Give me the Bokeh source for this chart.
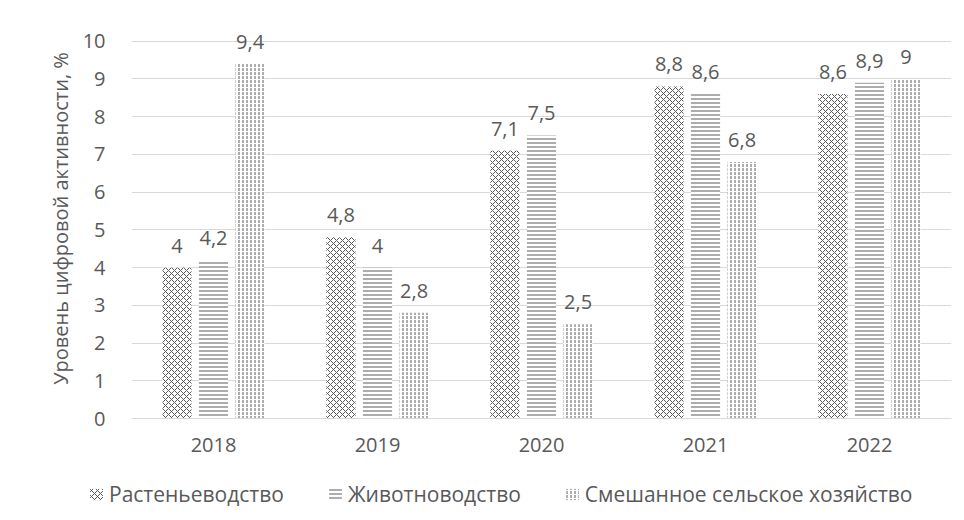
from bokeh.plotting import figure
from bokeh.layouts import column
from bokeh.models import ColumnDataSource, FactorRange, Range1d, Legend, LegendItem, FixedTicker
from bokeh.transform import dodge
from bokeh.core.properties import value
from bokeh.embed import file_html
from bokeh.resources import INLINE

years = ["2018", "2019", "2020", "2021", "2022"]
crops = [4, 4.8, 7.1, 8.8, 8.6]
livestock = [4.2, 4, 7.5, 8.6, 8.9]
mixed = [9.4, 2.8, 2.5, 6.8, 9]
y_ticks = [0, 1, 2, 3, 4, 5, 6, 7, 8, 9, 10]
series_names = ["Растеньеводство", "Животноводство", "Смешанное сельское хозяйство"]

def fmt(v):
    return ("%g" % v).replace(".", ",")

src = ColumnDataSource(dict(
    year=years, crops=crops, livestock=livestock, mixed=mixed,
    crops_l=[fmt(v) for v in crops], livestock_l=[fmt(v) for v in livestock],
    mixed_l=[fmt(v) for v in mixed],
))

FONT = "Open Sans"
TXT = "#595959"
HATCH = "#5a5a5a"

p = figure(width=960, height=470, x_range=FactorRange(*years), y_range=Range1d(0, 10.6),
           output_backend="svg", toolbar_location=None,
           min_border_left=131, min_border_right=9, min_border_top=18, min_border_bottom=52)
p.frame_align = False
p.x_range.range_padding = 0
p.border_fill_color = "white"
p.outline_line_color = None

specs = [("crops", -0.223, "x", 6), ("livestock", 0.0, "-", 4), ("mixed", 0.223, ":", 4)]
for (col, off, hp, hs) in specs:
    p.vbar(x=dodge("year", off, range=p.x_range), top=col, width=0.178, source=src,
           fill_color="white", line_color=None,
           hatch_pattern=hp, hatch_scale=hs, hatch_color=HATCH, hatch_weight=1)
    p.text(x=dodge("year", off, range=p.x_range), y=col, text=col + "_l", source=src,
           text_align="center", text_baseline="alphabetic", y_offset=-22,
           text_font=value(FONT), text_font_size="20px", text_color=TXT)

p.xgrid.grid_line_color = None
p.ygrid.grid_line_color = "#d9d9d9"
p.yaxis.ticker = FixedTicker(ticks=y_ticks)
p.yaxis.axis_line_color = None
p.yaxis.major_tick_line_color = None
p.yaxis.minor_tick_line_color = None
p.yaxis.major_label_text_font = FONT
p.yaxis.major_label_text_font_size = "20px"
p.yaxis.major_label_text_color = TXT
p.yaxis.major_label_standoff = 20
p.yaxis.axis_label = "Уровень цифровой активности, %"
p.yaxis.axis_label_text_font = FONT
p.yaxis.axis_label_text_font_style = "normal"
p.yaxis.axis_label_text_font_size = "20px"
p.yaxis.axis_label_text_color = TXT
p.yaxis.axis_label_standoff = 6

p.xaxis.axis_line_color = "#d9d9d9"
p.xaxis.major_tick_line_color = None
p.xaxis.minor_tick_line_color = None
p.xaxis.major_label_text_font = FONT
p.xaxis.major_label_text_font_size = "20px"
p.xaxis.major_label_text_color = TXT
p.xaxis.major_label_standoff = 13

# legend strip below the chart
q = figure(width=960, height=46, x_range=Range1d(0, 1), y_range=Range1d(0, 1),
           output_backend="svg", toolbar_location=None,
           min_border_left=0, min_border_right=0, min_border_top=0, min_border_bottom=0)
q.frame_align = False
q.axis.visible = False
q.grid.grid_line_color = None
q.outline_line_color = None
q.border_fill_color = "white"
leg_renderers = []
for (col, off, hp, hs) in specs:
    # off-screen proxy bars, used only to draw the legend swatches
    leg_renderers.append(q.vbar(x=[5], top=[1], width=0.1, fill_color="white", line_color=None,
                                hatch_pattern=hp, hatch_scale=hs, hatch_color=HATCH, hatch_weight=1))

legend = Legend(items=[LegendItem(label=n, renderers=[r]) for n, r in zip(series_names, leg_renderers)],
                orientation="horizontal", location=(88, 8),
                label_text_font=FONT, label_text_font_size="21px", label_text_color=TXT,
                glyph_width=16, glyph_height=14, spacing=43, label_standoff=5,
                margin=0, padding=5,
                border_line_color=None, background_fill_alpha=0)
q.add_layout(legend, "center")

layout = column(p, q, spacing=0)
open("out.html", "w").write(file_html(layout, INLINE))
